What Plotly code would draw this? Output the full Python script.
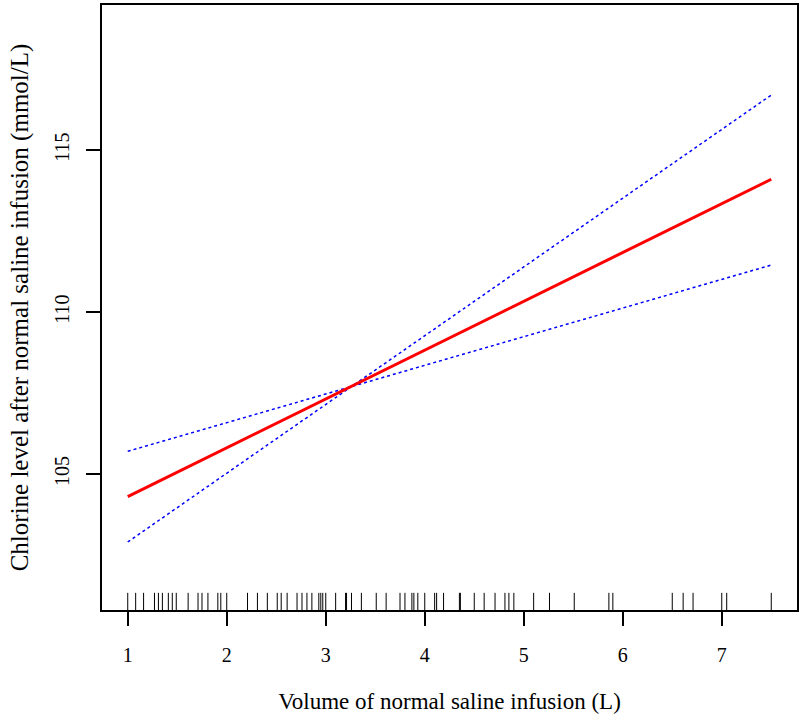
import plotly.graph_objects as go

# Fitted line and 95% CI (straight lines, read at the ends of the data range)
x_fit = [1.0, 7.5]
y_fit = [104.3, 114.1]
y_ci_a = [105.7, 111.45]   # dotted line starting above the fit
y_ci_b = [102.9, 116.7]    # dotted line starting below the fit

# Rug of observed infusion volumes (L)
rug_x = [1.00, 1.08, 1.16, 1.27, 1.31, 1.35, 1.41, 1.45, 1.49, 1.61, 1.71, 1.75,
         1.81, 1.91, 1.94, 2.00, 2.21, 2.31, 2.41, 2.51, 2.55, 2.61, 2.71, 2.76,
         2.81, 2.86, 2.93, 2.95, 2.97, 3.00, 3.10, 3.20, 3.21, 3.26, 3.36, 3.51,
         3.61, 3.75, 3.80, 3.87, 3.89, 3.93, 4.00, 4.10, 4.12, 4.19, 4.35, 4.36,
         4.50, 4.60, 4.71, 4.81, 4.85, 4.90, 5.10, 5.26, 5.51, 5.86, 5.90, 6.50,
         6.61, 6.71, 7.00, 7.05, 7.50]

x_ticks = [1, 2, 3, 4, 5, 6, 7]
y_ticks = [105, 110, 115]

x_range = [0.74, 7.76]
y_range = [100.80, 119.48]
rug_top = 101.33

FONT = "Liberation Serif, DejaVu Serif, serif"

rx, ry = [], []
for v in rug_x:
    rx += [v, v, None]
    ry += [y_range[0], rug_top, None]

fig = go.Figure()
fig.add_trace(go.Scatter(x=rx, y=ry, mode="lines",
                         line=dict(color="black", width=1), hoverinfo="skip"))
fig.add_trace(go.Scatter(x=x_fit, y=y_ci_a, mode="lines",
                         line=dict(color="#0000FF", width=1.5, dash="dot")))
fig.add_trace(go.Scatter(x=x_fit, y=y_ci_b, mode="lines",
                         line=dict(color="#0000FF", width=1.5, dash="dot")))
fig.add_trace(go.Scatter(x=x_fit, y=y_fit, mode="lines",
                         line=dict(color="#FF0000", width=3)))

fig.update_layout(
    width=800, height=715,
    margin=dict(l=102, r=3, t=5, b=105, autoexpand=False),
    paper_bgcolor="white", plot_bgcolor="white",
    showlegend=False,
    font=dict(family=FONT, color="black", size=20),
)
fig.update_xaxes(
    range=x_range, tickvals=x_ticks, ticktext=[str(t) for t in x_ticks],
    ticks="outside", ticklen=14, tickwidth=1.5, tickcolor="black",
    showline=True, linecolor="black", linewidth=1.5, mirror=True,
    showgrid=False, zeroline=False, ticklabelstandoff=12, automargin=False,
    tickfont=dict(family=FONT, size=20),
    title=dict(text="Volume of normal saline infusion (L)",
               font=dict(family=FONT, size=23), standoff=28),
)
fig.update_yaxes(
    range=y_range, tickvals=y_ticks, ticktext=[str(t) for t in y_ticks],
    tickangle=-90,
    ticks="outside", ticklen=14, tickwidth=1.5, tickcolor="black",
    showline=True, linecolor="black", linewidth=1.5, mirror=True,
    showgrid=False, zeroline=False, ticklabelstandoff=9, automargin=False,
    tickfont=dict(family=FONT, size=20),
    title=dict(text="Chlorine level after normal saline infusion (mmol/L)",
               font=dict(family=FONT, size=25), standoff=16),
)

fig.write_html(
    "out.html",
    config={"displayModeBar": False},
    post_script="document.body.style.margin='0px';document.body.style.overflow='hidden';",
)
